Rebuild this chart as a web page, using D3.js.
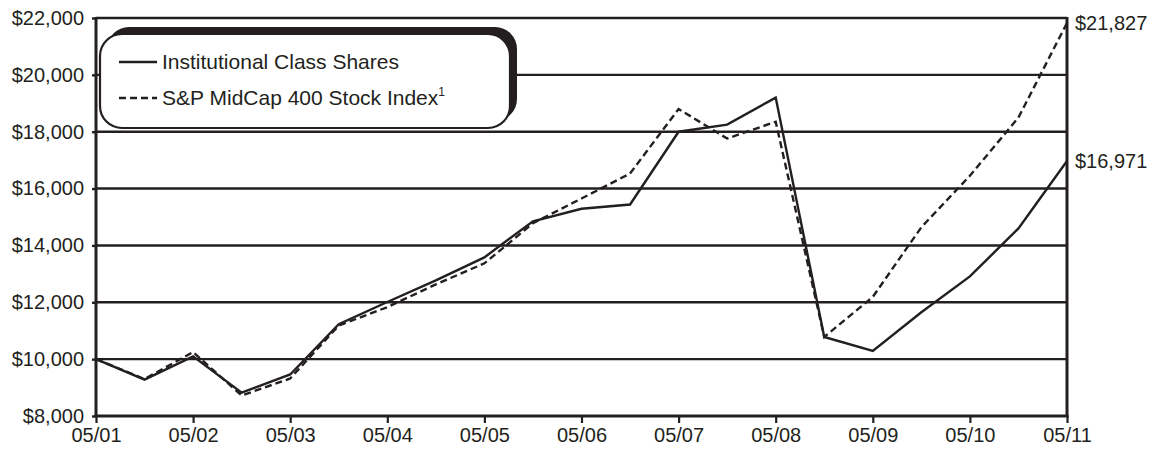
<!DOCTYPE html>
<html>
<head>
<meta charset="utf-8">
<script src="https://cdn.jsdelivr.net/npm/d3@7"></script>
<style>
  html, body { margin: 0; padding: 0; background: #fff; }
  svg { display: block; font-family: "Liberation Sans", Arial, Helvetica, sans-serif; }
</style>
</head>
<body>
<svg id="chart" width="1155" height="451"></svg>
<script>
// Semiannual observation points, May 2001 through May 2011
const periods = ["05/01","11/01","05/02","11/02","05/03","11/03","05/04","11/04","05/05","11/05",
                 "05/06","11/06","05/07","11/07","05/08","11/08","05/09","11/09","05/10","11/10","05/11"];
// Growth of a $10,000 investment
const institutionalShares = [10000, 9280, 10100, 8820, 9460, 11230, 12010, 12770, 13580, 14850,
                             15290, 15440, 18000, 18250, 19200, 10780, 10290, 11650, 12910, 14600, 16971];
const midCapIndex = [10000, 9300, 10250, 8720, 9320, 11180, 11830, 12630, 13370, 14780,
                     15650, 16530, 18800, 17760, 18350, 10780, 12190, 14640, 16450, 18500, 21827];
const xTickLabels = ["05/01","05/02","05/03","05/04","05/05","05/06","05/07","05/08","05/09","05/10","05/11"];
const yTicks = [8000, 10000, 12000, 14000, 16000, 18000, 20000, 22000];
const seriesNames = ["Institutional Class Shares", "S&P MidCap 400 Stock Index"];

const ink = "#231f20";
const svg = d3.select("#chart");
const plotLeft = 96, plotRight = 1067, plotTop = 18, plotBottom = 416;

const x = d3.scaleLinear().domain([0, periods.length - 1]).range([plotLeft, plotRight]);
const y = d3.scaleLinear().domain([8000, 22000]).range([plotBottom, plotTop]);
const fmt = v => "$" + d3.format(",")(v);

// Horizontal gridlines
svg.append("g")
  .selectAll("line").data(yTicks.filter(v => v > 8000)).join("line")
  .attr("x1", plotLeft).attr("x2", plotRight)
  .attr("y1", d => y(d)).attr("y2", d => y(d))
  .attr("stroke", ink).attr("stroke-width", 2.4);

// Left axis
const yAxis = svg.append("g")
  .attr("transform", `translate(${plotLeft},0)`)
  .call(d3.axisLeft(y).tickValues(yTicks).tickFormat(fmt).tickSize(4).tickPadding(8));
yAxis.select(".domain").attr("stroke", ink).attr("stroke-width", 3).attr("d", `M0,${plotTop - 1}V${plotBottom + 1}`);
yAxis.selectAll(".tick line").attr("stroke", ink).attr("stroke-width", 2.4);
yAxis.selectAll("text").attr("fill", ink).attr("font-size", 20).attr("font-family", "Liberation Sans, Arial, sans-serif");

// Bottom axis
const xTickIdx = xTickLabels.map(l => periods.indexOf(l));
const xAxis = svg.append("g")
  .attr("transform", `translate(0,${plotBottom})`)
  .call(d3.axisBottom(x).tickValues(xTickIdx).tickFormat(i => periods[i]).tickSize(7).tickPadding(5));
xAxis.select(".domain").attr("stroke", ink).attr("stroke-width", 3).attr("d", `M${plotLeft - 1.5},0H${plotRight + 1.5}`);
xAxis.selectAll(".tick line").attr("stroke", ink).attr("stroke-width", 2.2);
xAxis.selectAll("text").attr("fill", ink).attr("font-size", 20).attr("font-family", "Liberation Sans, Arial, sans-serif");

// Right border
svg.append("line")
  .attr("x1", plotRight).attr("x2", plotRight).attr("y1", plotTop - 1).attr("y2", plotBottom + 1)
  .attr("stroke", ink).attr("stroke-width", 3);

// Series lines
const line = d3.line().x((d, i) => x(i)).y(d => y(d));
svg.append("path").datum(midCapIndex)
  .attr("d", line).attr("fill", "none")
  .attr("stroke", ink).attr("stroke-width", 2.4).attr("stroke-dasharray", "7,4");
svg.append("path").datum(institutionalShares)
  .attr("d", line).attr("fill", "none")
  .attr("stroke", ink).attr("stroke-width", 2.4).attr("stroke-linejoin", "miter");

// Ending values
const last = periods.length - 1;
[midCapIndex[last], institutionalShares[last]].forEach(v => {
  svg.append("text")
    .attr("x", plotRight + 8).attr("y", y(v)).attr("dy", "0.35em")
    .attr("font-size", 20).attr("fill", ink)
    .text(fmt(v));
});

// Legend with offset shadow
const lg = svg.append("g");
lg.append("rect").attr("x", 107).attr("y", 27).attr("width", 410).attr("height", 94)
  .attr("rx", 22).attr("fill", ink);
lg.append("rect").attr("x", 100).attr("y", 34).attr("width", 410).attr("height", 94)
  .attr("rx", 22).attr("fill", "#fff").attr("stroke", ink).attr("stroke-width", 2.2);

const rows = [{ name: seriesNames[0], dash: null, cy: 62 }, { name: seriesNames[1], dash: "7,4", cy: 98 }];
rows.forEach(r => {
  lg.append("line").attr("x1", 119).attr("x2", 157).attr("y1", r.cy).attr("y2", r.cy)
    .attr("stroke", ink).attr("stroke-width", 2.4).attr("stroke-dasharray", r.dash);
  const t = lg.append("text").attr("x", 162).attr("y", r.cy).attr("dy", "0.35em")
    .attr("font-size", 21).attr("fill", ink).text(r.name);
  if (r.dash) {
    t.append("tspan").attr("font-size", 12).attr("dy", "-0.75em").text("1");
  }
});
</script>
</body>
</html>
